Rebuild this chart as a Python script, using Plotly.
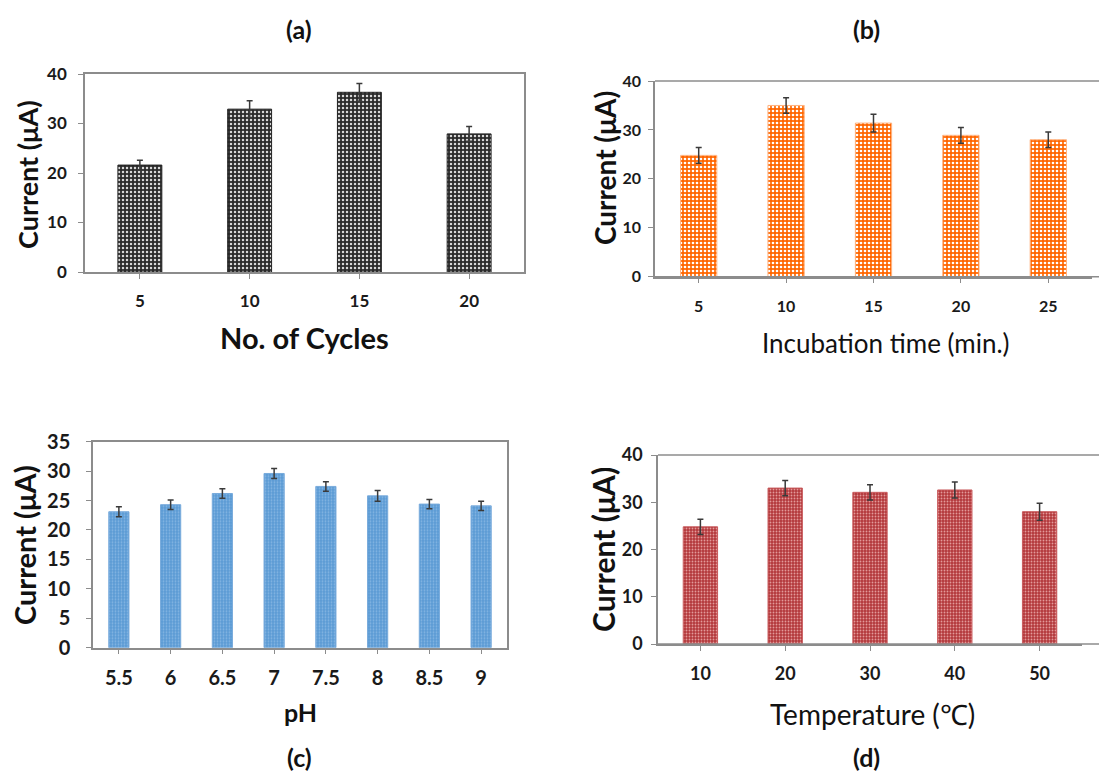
import plotly.graph_objects as go

W, H = 1099, 775

# ---- data ----
cycles = ["5", "10", "15", "20"]
cycles_current = [21.6, 32.9, 36.3, 27.9]
cycles_err = [1.0, 1.7, 1.8, 1.5]

incub = ["5", "10", "15", "20", "25"]
incub_current = [24.8, 35.0, 31.4, 28.9, 28.0]
incub_err = [1.6, 1.6, 1.8, 1.6, 1.6]

ph = ["5.5", "6", "6.5", "7", "7.5", "8", "8.5", "9"]
ph_current = [23.1, 24.3, 26.2, 29.6, 27.4, 25.8, 24.4, 24.1]
ph_err = [0.85, 0.8, 0.8, 0.85, 0.8, 0.9, 0.8, 0.8]

temp = ["10", "20", "30", "40", "50"]
temp_current = [24.8, 33.0, 32.1, 32.6, 28.0]
temp_err = [1.6, 1.6, 1.6, 1.7, 1.8]

FONT = "Lato"

def px_x(x):
    return x / W

def px_y(y):
    return 1 - y / H

fig = go.Figure()

panels = [
    dict(x=cycles, y=cycles_current, e=cycles_err, xa="x", ya="y",
         xd=[85, 524], yd=[272, 74], rng=[0, 40], dt=10,
         bg="#2a2a2a", fg="#d8d8d8", line="#222222", psize=4, sol=0.3, width=0.4,
         tickfont=17, ystand=8, xstand=8),
    dict(x=incub, y=incub_current, e=incub_err, xa="x2", ya="y2",
         xd=[655, 1092], yd=[276.7, 81], rng=[0, 40], dt=10,
         bg="#ff6600", fg="#ffffff", line="#ffb380", psize=4, sol=0.35, width=0.415,
         tickfont=16, ystand=4, xstand=9),
    dict(x=ph, y=ph_current, e=ph_err, xa="x3", ya="y3",
         xd=[93, 507], yd=[647.7, 441.7], rng=[0, 35], dt=5,
         bg="#5b9bd5", fg="#86b6e3", line="#79abdc", psize=3, sol=0.3, width=0.39,
         tickfont=20, ystand=12, xstand=7),
    dict(x=temp, y=temp_current, e=temp_err, xa="x4", ya="y4",
         xd=[658, 1082], yd=[644, 455], rng=[0, 40], dt=10,
         bg="#b3383b", fg="#e39a9a", line="#c85a5c", psize=3, sol=0.3, width=0.405,
         tickfont=18, ystand=5, xstand=8),
]

layout_axes = {}
for i, p in enumerate(panels):
    fig.add_trace(go.Bar(
        x=p["x"], y=p["y"], xaxis=p["xa"], yaxis=p["ya"],
        width=p["width"],
        marker=dict(color=p["bg"], line=dict(color=p["line"], width=1),
                    pattern=dict(shape=".", fgcolor=p["fg"], bgcolor=p["bg"],
                                 size=p["psize"], solidity=p["sol"], fillmode="replace")),
        error_y=dict(type="data", array=p["e"], visible=True, color="#3a3a3a",
                     thickness=1.5, width=3),
        showlegend=False,
    ))
    xk = "xaxis" if i == 0 else f"xaxis{i+1}"
    yk = "yaxis" if i == 0 else f"yaxis{i+1}"
    mirror = i in (0, 2)
    layout_axes[xk] = dict(
        domain=[px_x(p["xd"][0]), px_x(p["xd"][1])],
        anchor=p["ya"], type="category",
        showline=True, linecolor="#8c8c8c", linewidth=1.5, mirror=mirror,
        ticks="outside", ticklen=5, tickcolor="#8c8c8c", tickwidth=1.2,
        tickfont=dict(family=FONT, size=p["tickfont"], color="#1a1a1a", weight="bold"),
        ticklabelstandoff=p["xstand"], showgrid=False, zeroline=False, fixedrange=True,
        automargin=False,
    )
    layout_axes[yk] = dict(
        domain=[px_y(p["yd"][0]), px_y(p["yd"][1])],
        anchor=p["xa"], range=p["rng"], dtick=p["dt"], tick0=0,
        showline=True, linecolor="#8c8c8c", linewidth=1.5, mirror=mirror,
        ticks="outside", ticklen=5, tickcolor="#8c8c8c", tickwidth=1.2,
        tickfont=dict(family=FONT, size=p["tickfont"], color="#1a1a1a", weight="bold"),
        ticklabelstandoff=p["ystand"], showgrid=False, zeroline=False, fixedrange=True,
        automargin=False,
    )

# Top and bottom frame lines of panels (b) and (d) run to the page edge
shapes = []
for p in (panels[1], panels[3]):
    for yv in (p["yd"][0], p["yd"][1]):
        shapes.append(dict(type="line", xref="paper", yref="paper",
                           x0=px_x(p["xd"][0]), x1=1, y0=px_y(yv), y1=px_y(yv),
                           line=dict(color="#8c8c8c", width=1.5)))

annotations = []
def ann(text, x, y, size, bold=True, angle=0):
    annotations.append(dict(
        text=f"<b>{text}</b>" if bold else text, x=px_x(x), y=px_y(y),
        xref="paper", yref="paper", showarrow=False, textangle=angle,
        xanchor="center", yanchor="middle",
        font=dict(family=FONT, size=size, color="#111111"),
    ))

# panel labels
ann("(a)", 299, 29, 25)
ann("(b)", 866, 29, 25)
ann("(c)", 299, 757, 25)
ann("(d)", 866, 757, 25)

# y titles
ann("Current (μA)", 27, 175, 27, angle=-90)
ann("Current (μA)", 605, 168, 28, angle=-90)
ann("Current (μA)", 24, 545, 29, angle=-90)
ann("Current (μA)", 603, 550, 30, angle=-90)

# x titles
ann("No. of Cycles", 304, 337, 29)
ann("Incubation time (min.)", 885, 343, 26, bold=False)
ann("pH", 300, 712, 25)
ann("Temperature (℃)", 872, 714, 28, bold=False)

fig.update_layout(
    width=W, height=H, margin=dict(l=0, r=0, t=0, b=0, autoexpand=False),
    paper_bgcolor="white", plot_bgcolor="white",
    bargap=0.6, shapes=shapes, annotations=annotations,
    **layout_axes,
)

fig.write_html("out.html")
